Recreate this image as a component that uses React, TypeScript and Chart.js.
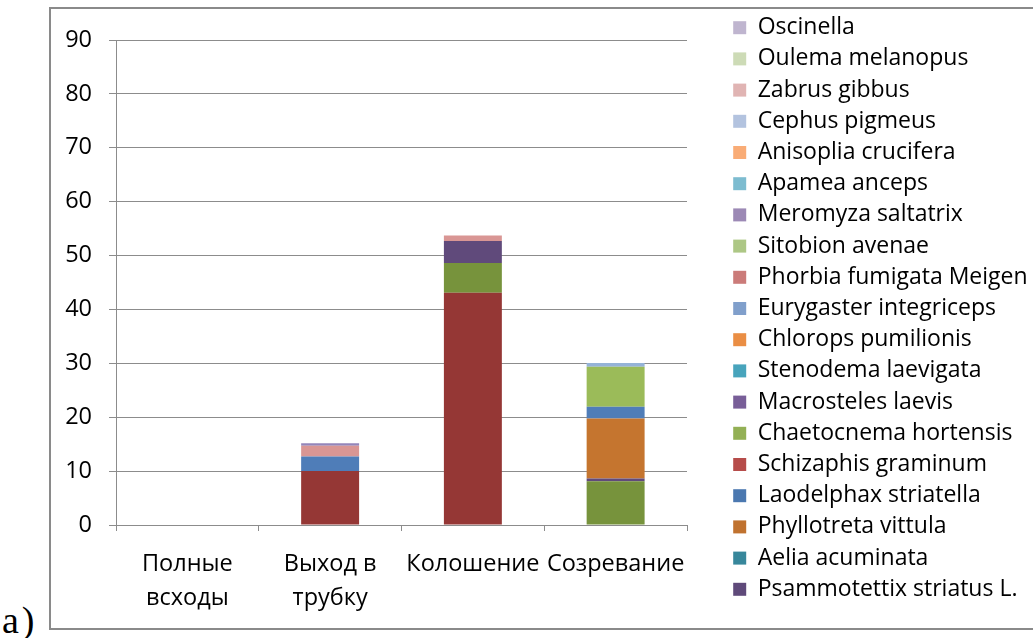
import React, { useEffect, useRef } from "react";
import { Chart, registerables } from "chart.js";

Chart.register(...registerables);

// ---- Data ----
const categories: (string | string[])[] = [
  ["Полные", "всходы"],
  ["Выход в", "трубку"],
  "Колошение",
  "Созревание",
];

const yMin = 0;
const yMax = 90;
const yStep = 10;

// values per growth stage (bottom-to-top stacking order follows dataset list below)
const schizaphisGraminum = [0, 10, 43.1, 0];
const chaetocnemaHortensis = [0, 0, 5.5, 8.1];
const psammotettixStriatus = [0, 0, 4.1, 0.55];
const phyllotretaVittula = [0, 0, 0, 11.1];
const laodelphaxStriatella = [0, 2.7, 0, 2.2];
const phorbiaFumigata = [0, 2.0, 1.0, 0];
const sitobionAvenae = [0, 0, 0, 7.4];
const eurygasterIntegriceps = [0, 0, 0, 0.7];
const meromyzaSaltatrix = [0, 0.45, 0, 0];
const aeliaAcuminata = [0, 0, 0, 0];
const macrostelesLaevis = [0, 0, 0, 0];
const stenodemaLaevigata = [0, 0, 0, 0];
const chloropsPumilionis = [0, 0, 0, 0];
const apameaAnceps = [0, 0, 0, 0];
const anisopliaCrucifera = [0, 0, 0, 0];
const cephusPigmeus = [0, 0, 0, 0];
const zabrusGibbus = [0, 0, 0, 0];
const oulemaMelanopus = [0, 0, 0, 0];
const oscinella = [0, 0, 0, 0];

// legend order, top to bottom
const legendOrder = [
  "Oscinella",
  "Oulema melanopus",
  "Zabrus gibbus",
  "Cephus pigmeus",
  "Anisoplia crucifera",
  "Apamea anceps",
  "Meromyza saltatrix",
  "Sitobion avenae",
  "Phorbia fumigata Meigen",
  "Eurygaster integriceps",
  "Chlorops pumilionis",
  "Stenodema laevigata",
  "Macrosteles laevis",
  "Chaetocnema hortensis",
  "Schizaphis graminum",
  "Laodelphax striatella",
  "Phyllotreta vittula",
  "Aelia acuminata",
  "Psammotettix striatus L.",
];

// [label, data, bar colour, legend colour]
const seriesList: [string, number[], string, string][] = [
  ["Schizaphis graminum", schizaphisGraminum, "#953735", "#B64C4A"],
  ["Chaetocnema hortensis", chaetocnemaHortensis, "#77933C", "#93B055"],
  ["Psammotettix striatus L.", psammotettixStriatus, "#604A7B", "#5F4A7A"],
  ["Phyllotreta vittula", phyllotretaVittula, "#C5752F", "#C0722F"],
  ["Laodelphax striatella", laodelphaxStriatella, "#4F7DB8", "#4B78B0"],
  ["Phorbia fumigata Meigen", phorbiaFumigata, "#D99694", "#CB7B79"],
  ["Sitobion avenae", sitobionAvenae, "#9BBB59", "#ADC785"],
  ["Eurygaster integriceps", eurygasterIntegriceps, "#95B3D7", "#809FCB"],
  ["Meromyza saltatrix", meromyzaSaltatrix, "#9486BA", "#9C89B5"],
  ["Aelia acuminata", aeliaAcuminata, "#37879B", "#37879B"],
  ["Macrosteles laevis", macrostelesLaevis, "#785E98", "#785E98"],
  ["Stenodema laevigata", stenodemaLaevigata, "#48A4BC", "#48A4BC"],
  ["Chlorops pumilionis", chloropsPumilionis, "#EA8E44", "#EA8E44"],
  ["Apamea anceps", apameaAnceps, "#7DBCD0", "#7DBCD0"],
  ["Anisoplia crucifera", anisopliaCrucifera, "#F9AC76", "#F9AC76"],
  ["Cephus pigmeus", cephusPigmeus, "#B3C3DF", "#B3C3DF"],
  ["Zabrus gibbus", zabrusGibbus, "#E0B4B3", "#E0B4B3"],
  ["Oulema melanopus", oulemaMelanopus, "#CDDBB6", "#CDDBB6"],
  ["Oscinella", oscinella, "#BFB5CF", "#BFB5CF"],
];

const FONT = "'Open Sans', 'Noto Sans', sans-serif";
const GRID = "#8c8c8c";
const CANVAS_W = 984;
const CANVAS_H = 623;
const PLOT_RIGHT = 638;
const TOP_PAD = 3;

export default function App() {
  const ref = useRef<HTMLCanvasElement | null>(null);

  useEffect(() => {
    if (!ref.current) return;
    const legendColor: Record<string, string> = {};
    seriesList.forEach((s) => (legendColor[s[0]] = s[3]));

    const chart = new Chart(ref.current, {
      type: "bar",
      data: {
        labels: categories as any,
        datasets: seriesList.map(([label, data, color]) => ({
          label,
          data,
          backgroundColor: color,
          borderWidth: 0,
          barPercentage: 0.406,
          categoryPercentage: 1,
        })),
      },
      options: {
        animation: false,
        responsive: false,
        devicePixelRatio: 1,
        layout: { padding: { top: TOP_PAD, left: 0, right: 0, bottom: 0 } },
        font: { family: FONT },
        plugins: {
          tooltip: { enabled: false },
          legend: {
            position: "right",
            align: "start",
            maxWidth: 308,
            labels: {
              font: { family: FONT, size: 23 },
              color: "#000",
              boxWidth: 13,
              boxHeight: 13,
              padding: 8.2,
              sort: (a: any, b: any) =>
                legendOrder.indexOf(a.text) - legendOrder.indexOf(b.text),
              generateLabels: (c: any) => {
                const items = (Chart.defaults.plugins.legend.labels as any).generateLabels(c);
                return items.map((it: any) => ({
                  ...it,
                  fillStyle: legendColor[it.text],
                  strokeStyle: legendColor[it.text],
                  lineWidth: 0,
                }));
              },
            },
          } as any,
        },
        scales: {
          x: {
            stacked: true,
            grid: {
              drawOnChartArea: false,
              drawTicks: true,
              tickLength: 6,
              color: GRID,
            },
            border: { display: true, color: GRID, width: 1 },
            ticks: {
              color: "#000",
              font: { family: FONT, size: 23.5, lineHeight: 1.45 },
              padding: 16,
              maxRotation: 0,
              autoSkip: false,
            },
            afterFit: (s: any) => {
              s.height = CANVAS_H - 520;
            },
          },
          x2: {
            type: "category",
            position: "top",
            display: true,
            grid: { display: false, drawTicks: false },
            border: { display: false },
            ticks: { display: false },
            afterFit: (s: any) => {
              s.height = 35 - TOP_PAD;
            },
          },
          y: {
            stacked: true,
            min: yMin,
            max: yMax,
            ticks: {
              stepSize: yStep,
              color: "#000",
              font: { family: FONT, size: 23.5 },
              padding: 17,
            },
            grid: { color: GRID, tickLength: 7, lineWidth: 1 },
            border: { display: true, color: GRID, width: 1 },
            afterFit: (s: any) => {
              s.width = 67;
            },
          },
          y2: {
            type: "linear",
            position: "right",
            display: true,
            grid: { display: false, drawTicks: false },
            border: { display: false },
            ticks: { display: false },
            afterFit: (s: any) => {
              const lg = (s.chart as any).legend;
              s.width = Math.max(0, s.chart.width - (lg ? lg.width : 0) - PLOT_RIGHT);
            },
          },
        } as any,
      },
    });
    return () => chart.destroy();
  }, []);

  return (
    <div
      style={{
        position: "absolute",
        left: 0,
        top: 0,
        width: 1033,
        height: 638,
        overflow: "hidden",
        background: "#fff",
      }}
    >
      <div
        style={{
          position: "absolute",
          left: 49,
          top: 7,
          width: 1010,
          height: 619,
          border: "2px solid #8a8a8a",
        }}
      />
      <canvas
        ref={ref}
        width={CANVAS_W}
        height={CANVAS_H}
        style={{ position: "absolute", left: 49, top: 5, width: CANVAS_W, height: CANVAS_H }}
      />
      <div
        style={{
          position: "absolute",
          left: 2,
          top: 601,
          fontFamily: "'Liberation Serif', 'Times New Roman', serif",
          fontSize: 38,
          letterSpacing: 3,
          lineHeight: 1,
          color: "#000",
        }}
      >
        a)
      </div>
    </div>
  );
}
